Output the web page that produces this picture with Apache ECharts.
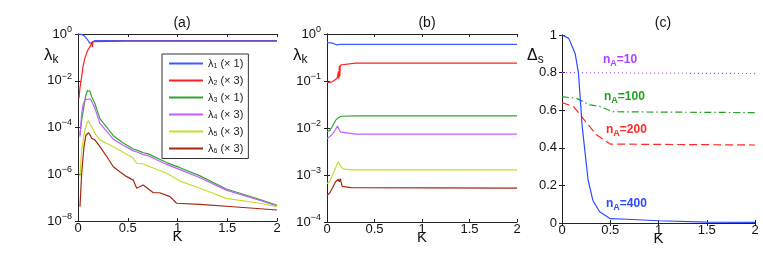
<!DOCTYPE html>
<html><head><meta charset="utf-8">
<script src="https://cdn.jsdelivr.net/npm/echarts@6/dist/echarts.min.js"></script>
<style>html,body{margin:0;padding:0;background:#fff}#c{width:763px;height:273px}</style>
</head><body><div id="c"></div>
<script>
// ---------- Panel (a) ----------
const A_K1 = [0, 0.03, 0.06, 0.09, 0.12, 0.14, 0.17, 0.5, 1, 2];
const A_L1 = [1.0, 0.98, 0.85, 0.62, 0.40, 0.48, 0.52, 0.52, 0.52, 0.52];
const A_K2 = [0.01, 0.02, 0.037, 0.05, 0.07, 0.1, 0.125, 0.135, 0.14, 0.145, 0.15, 0.17, 0.5, 1, 2];
const A_L2 = [1.78e-3, 5.0e-3, 0.0151, 0.0398, 0.0955, 0.209, 0.302, 0.347, 0.437, 0.282, 0.468, 0.49, 0.49, 0.49, 0.49];
const A_K3 = [0.02, 0.04, 0.063, 0.08, 0.095, 0.107, 0.12, 0.137, 0.17, 0.22, 0.355, 0.45, 0.556, 0.6, 0.656, 0.7, 0.89, 1.025, 1.226, 1.49, 1.83, 2.0];
const A_L3 = [5.0e-5, 2.51e-4, 1.0e-3, 2.51e-3, 3.8e-3, 4.17e-3, 3.55e-3, 2.09e-3, 1.07e-3, 2.4e-4, 4.47e-5, 2.24e-5, 1.2e-5, 1.05e-5, 8.3e-6, 7.6e-6, 3.16e-6, 1.91e-6, 8.5e-7, 2.34e-7, 8.3e-8, 4.7e-8];
const A_K4 = [0.02, 0.037, 0.05, 0.07, 0.093, 0.11, 0.125, 0.137, 0.15, 0.17, 0.22, 0.355, 0.45, 0.556, 0.6, 0.656, 0.7, 0.89, 1.025, 1.226, 1.49, 1.83, 2.0];
const A_L4 = [4.07e-5, 4.07e-4, 8.9e-4, 1.51e-3, 1.62e-3, 1.51e-3, 1.66e-3, 1.32e-3, 1.12e-3, 6.6e-4, 1.51e-4, 3.16e-5, 1.78e-5, 1.0e-5, 8.7e-6, 6.9e-6, 6.3e-6, 2.63e-6, 1.58e-6, 7.1e-7, 2.09e-7, 7.6e-8, 4.37e-8];
const A_K5 = [0.02, 0.037, 0.055, 0.07, 0.09, 0.104, 0.12, 0.137, 0.17, 0.22, 0.355, 0.45, 0.556, 0.59, 0.656, 0.89, 1.025, 1.226, 1.49, 1.83, 2.0];
const A_L5 = [7.9e-7, 1.1e-5, 3.55e-5, 7.8e-5, 1.58e-4, 1.95e-4, 1.66e-4, 1.07e-4, 5.6e-5, 2.95e-5, 1.51e-5, 8.9e-6, 4.8e-6, 2.95e-6, 2.75e-6, 1.1e-6, 5.1e-7, 2.51e-7, 9.3e-8, 5.75e-8, 4.07e-8];
const A_K6 = [0.02, 0.037, 0.06, 0.08, 0.107, 0.125, 0.137, 0.17, 0.22, 0.29, 0.355, 0.42, 0.49, 0.556, 0.59, 0.656, 0.757, 0.82, 0.925, 0.99, 1.226, 1.56, 2.0];
const A_L6 = [4.07e-8, 1.1e-6, 1.51e-5, 4.8e-5, 6.0e-5, 4.47e-5, 3.47e-5, 2.95e-5, 1.51e-5, 5.6e-6, 2.09e-6, 1.29e-6, 7.9e-7, 5.6e-7, 2.51e-7, 3.47e-7, 1.62e-7, 1.62e-7, 1.1e-7, 5.75e-8, 5.1e-8, 4.07e-8, 2.95e-8];

// ---------- Panel (b) ----------
const B_K1 = [0, 0.05, 0.1, 0.12, 0.14, 0.2, 2];
const B_L1 = [0.653, 0.646, 0.589, 0.556, 0.603, 0.603, 0.603];
const B_K2 = [0, 0.03, 0.06, 0.09, 0.11, 0.12, 0.125, 0.13, 0.135, 0.14, 0.145, 0.16, 0.3, 2];
const B_L2 = [0.0933, 0.0933, 0.0977, 0.107, 0.12, 0.158, 0.112, 0.209, 0.126, 0.219, 0.229, 0.234, 0.24, 0.24];
const B_K3 = [0, 0.03, 0.06, 0.09, 0.12, 0.15, 0.3, 2];
const B_L3 = [8.3e-3, 8.9e-3, 1.12e-2, 1.45e-2, 1.66e-2, 1.78e-2, 1.82e-2, 1.82e-2];
const B_K4 = [0, 0.03, 0.06, 0.09, 0.11, 0.12, 0.13, 0.14, 0.16, 0.3, 2];
const B_L4 = [6.0e-3, 6.6e-3, 7.6e-3, 9.3e-3, 1.1e-2, 1.15e-2, 1.05e-2, 8.3e-3, 7.6e-3, 7.4e-3, 7.4e-3];
const B_K5 = [0, 0.03, 0.06, 0.09, 0.12, 0.14, 0.17, 0.25, 2];
const B_L5 = [6.5e-4, 7.4e-4, 1.0e-3, 1.41e-3, 1.91e-3, 1.58e-3, 1.35e-3, 1.29e-3, 1.29e-3];
const B_K6 = [0, 0.03, 0.06, 0.09, 0.12, 0.13, 0.14, 0.16, 0.25, 2];
const B_L6 = [3.6e-4, 4.2e-4, 5.4e-4, 7.2e-4, 8.1e-4, 7.2e-4, 8.3e-4, 5.75e-4, 5.4e-4, 5.25e-4];

// ---------- Panel (c) ----------
const C_K400 = [0, 0.07, 0.137, 0.17, 0.19, 0.21, 0.24, 0.27, 0.32, 0.39, 0.5, 0.67, 1.0, 1.5, 2.0];
const C_D400 = [1.0, 0.982, 0.90, 0.80, 0.655, 0.51, 0.37, 0.23, 0.12, 0.06, 0.023, 0.02, 0.012, 0.005, 0.003];
const C_K10 = [0, 1, 2];
const C_D10 = [0.80, 0.797, 0.795];
const C_K100 = [0, 0.15, 0.29, 0.39, 0.53, 1, 2];
const C_D100 = [0.672, 0.663, 0.628, 0.62, 0.592, 0.59, 0.587];
const C_K200 = [0, 0.12, 0.26, 0.36, 0.5, 1, 2];
const C_D200 = [0.64, 0.619, 0.53, 0.468, 0.42, 0.418, 0.415];

const LAMBDA_NAMES = ['λ1', 'λ2', 'λ3', 'λ4', 'λ5', 'λ6'];
const LAMBDA_MULT = [1, 3, 1, 3, 3, 3];
const LAMBDA_COLORS = ['#3a5cff', '#ff1f1f', '#2ea62e', '#c35cff', '#c8dc2a', '#a3280f'];
const C_COLORS = {n10: '#b44dff', n100: '#22a022', n200: '#ff2a2a', n400: '#2a4bff'};

const FONT = 'Liberation Sans, Arial, Helvetica, sans-serif';
const zip = (k, v) => k.map((x, i) => [x, v[i]]);

const grids = [
  {left: 78, top: 34, width: 199, height: 187},
  {left: 327, top: 34, width: 190, height: 188},
  {left: 562, top: 35, width: 193, height: 188}
];

const lineCol = '#222';
function xAxes(g) {
  return [
    {type: 'value', gridIndex: g, min: 0, max: 2, interval: 0.5, position: 'bottom',
     axisLine: {show: true, lineStyle: {color: lineCol, width: 1}},
     axisTick: {show: true, inside: true, length: 3, lineStyle: {color: lineCol}},
     splitLine: {show: false},
     axisLabel: {color: '#111', fontSize: 13, fontFamily: FONT, margin: 1},
     name: 'K', nameLocation: 'middle', nameGap: 8, nameMoveOverlap: false,
     nameTextStyle: {fontSize: 15, fontFamily: FONT, color: '#111', verticalAlign: 'top'}},
    {type: 'value', gridIndex: g, min: 0, max: 2, interval: 0.5, position: 'top',
     axisLine: {show: true, lineStyle: {color: lineCol, width: 1}},
     axisTick: {show: true, inside: true, length: 3, lineStyle: {color: lineCol}},
     splitLine: {show: false}, axisLabel: {show: false}}
  ];
}
const powRich = {
  b: {fontSize: 13, lineHeight: 18, fontFamily: FONT, color: '#111'},
  e: {fontSize: 9, lineHeight: 9, fontFamily: FONT, color: '#111', verticalAlign: 'top'}
};
function powFmt(v) {
  const e = Math.round(Math.log10(v));
  return '{b|10}{e|' + (e < 0 ? '\u2212' + (-e) : e) + '}';
}
function yAxesLog(g, minV, interval) {
  const common = {type: 'log', logBase: 10, gridIndex: g, min: minV, max: 1, interval: interval,
    axisLine: {show: true, lineStyle: {color: lineCol, width: 1}},
    axisTick: {show: true, inside: true, length: 3, lineStyle: {color: lineCol}},
    minorTick: {show: false}, splitLine: {show: false}};
  return [
    Object.assign({}, common, {position: 'left',
      axisLabel: {formatter: powFmt, rich: powRich, margin: 6}}),
    Object.assign({}, common, {position: 'right', axisLabel: {show: false}})
  ];
}
function yAxesLin(g) {
  const common = {type: 'value', gridIndex: g, min: 0, max: 1, interval: 0.2,
    axisLine: {show: true, lineStyle: {color: lineCol, width: 1}},
    axisTick: {show: true, inside: true, length: 3, lineStyle: {color: lineCol}},
    splitLine: {show: false}};
  return [
    Object.assign({}, common, {position: 'left',
      axisLabel: {color: '#111', fontSize: 13, fontFamily: FONT, margin: 5}}),
    Object.assign({}, common, {position: 'right', axisLabel: {show: false}})
  ];
}

const xAxis = [].concat(xAxes(0), xAxes(1), xAxes(2));
const yAxis = [].concat(yAxesLog(0, 1e-8, 2), yAxesLog(1, 1e-4, 1), yAxesLin(2));

function line(name, data, color, xi, yi, extra) {
  return Object.assign({
    type: 'line', name: name, data: data, xAxisIndex: xi, yAxisIndex: yi,
    symbol: 'none', smooth: false, silent: true, animation: false,
    lineStyle: {color: color, width: 1.2}, itemStyle: {color: color}
  }, extra || {});
}

const aK = [A_K1, A_K2, A_K3, A_K4, A_K5, A_K6];
const aL = [A_L1, A_L2, A_L3, A_L4, A_L5, A_L6];
const bK = [B_K1, B_K2, B_K3, B_K4, B_K5, B_K6];
const bL = [B_L1, B_L2, B_L3, B_L4, B_L5, B_L6];

const series = [];
for (let i = 0; i < 6; i++) series.push(line(LAMBDA_NAMES[i], zip(aK[i], aL[i]), LAMBDA_COLORS[i], 0, 0));
for (let i = 0; i < 6; i++) series.push(line(LAMBDA_NAMES[i], zip(bK[i], bL[i]), LAMBDA_COLORS[i], 2, 2));
series.push(line('nA=10', zip(C_K10, C_D10), C_COLORS.n10, 4, 4,
  {lineStyle: {color: C_COLORS.n10, width: 1.2, type: [1, 3]}}));
series.push(line('nA=100', zip(C_K100, C_D100), C_COLORS.n100, 4, 4,
  {lineStyle: {color: C_COLORS.n100, width: 1.2, type: [7, 3, 1.5, 3]}}));
series.push(line('nA=200', zip(C_K200, C_D200), C_COLORS.n200, 4, 4,
  {lineStyle: {color: C_COLORS.n200, width: 1.2, type: [8, 4]}}));
series.push(line('nA=400', zip(C_K400, C_D400), C_COLORS.n400, 4, 4));

const subRich = (size, color, bold) => ({
  m: {fontSize: size, fontFamily: FONT, fill: color, fontWeight: bold ? 'bold' : 'normal', lineHeight: size + 4},
  s: {fontSize: Math.round(size * 0.72), fontFamily: FONT, fill: color, fontWeight: bold ? 'bold' : 'normal', lineHeight: Math.round(size * 0.72), verticalAlign: 'bottom'}
});
function gText(x, y, str, rich, color) {
  return {type: 'text', left: x, top: y, silent: true, style: {text: str, rich: rich, fill: color}};
}

const option = {
  animation: false,
  backgroundColor: '#fff',
  grid: grids,
  xAxis: xAxis,
  yAxis: yAxis,
  series: series,
  title: [
    {text: '(a)', left: 177, top: 11, textAlign: 'center', textStyle: {fontSize: 14, fontWeight: 'normal', fontFamily: FONT, color: '#111'}},
    {text: '(b)', left: 422, top: 11, textAlign: 'center', textStyle: {fontSize: 14, fontWeight: 'normal', fontFamily: FONT, color: '#111'}},
    {text: '(c)', left: 658, top: 11, textAlign: 'center', textStyle: {fontSize: 14, fontWeight: 'normal', fontFamily: FONT, color: '#111'}}
  ],
  legend: {
    data: LAMBDA_NAMES, orient: 'vertical', left: 162, top: 54,
    backgroundColor: '#fff', borderColor: '#333', borderWidth: 1, borderRadius: 0,
    padding: [4, 5, 4, 7], itemWidth: 34, itemHeight: 2, itemGap: 5.5,
    icon: 'rect', selectedMode: false,
    formatter: function (name) {
      const i = LAMBDA_NAMES.indexOf(name);
      return '{l|λ}{s|' + (i + 1) + '}{t| (× ' + LAMBDA_MULT[i] + ')}';
    },
    textStyle: {
      rich: {
        l: {fontSize: 11, fontFamily: FONT, color: '#222', lineHeight: 12},
        s: {fontSize: 7, fontFamily: FONT, color: '#222', lineHeight: 7, verticalAlign: 'bottom'},
        t: {fontSize: 11, fontFamily: FONT, color: '#222', lineHeight: 12}
      }
    }
  },
  graphic: [
    gText(44, 47, '{m|λ}{s|k}', subRich(17, '#111', false), '#111'),
    gText(293, 47, '{m|λ}{s|k}', subRich(17, '#111', false), '#111'),
    gText(527, 48, '{m|Δ}{s|s}', subRich(16, '#111', false), '#111'),
    gText(603, 54, '{m|n}{s|A}{m|=10}', subRich(12, '#b040ff', true), '#b040ff'),
    gText(604, 91, '{m|n}{s|A}{m|=100}', subRich(12, '#22a022', true), '#22a022'),
    gText(606, 124, '{m|n}{s|A}{m|=200}', subRich(12, '#ff2a2a', true), '#ff2a2a'),
    gText(606, 198, '{m|n}{s|A}{m|=400}', subRich(12, '#2a4bff', true), '#2a4bff')
  ]
};

const chart = echarts.init(document.getElementById('c'), null, {renderer: 'canvas'});
chart.setOption(option);
</script>
</body></html>
